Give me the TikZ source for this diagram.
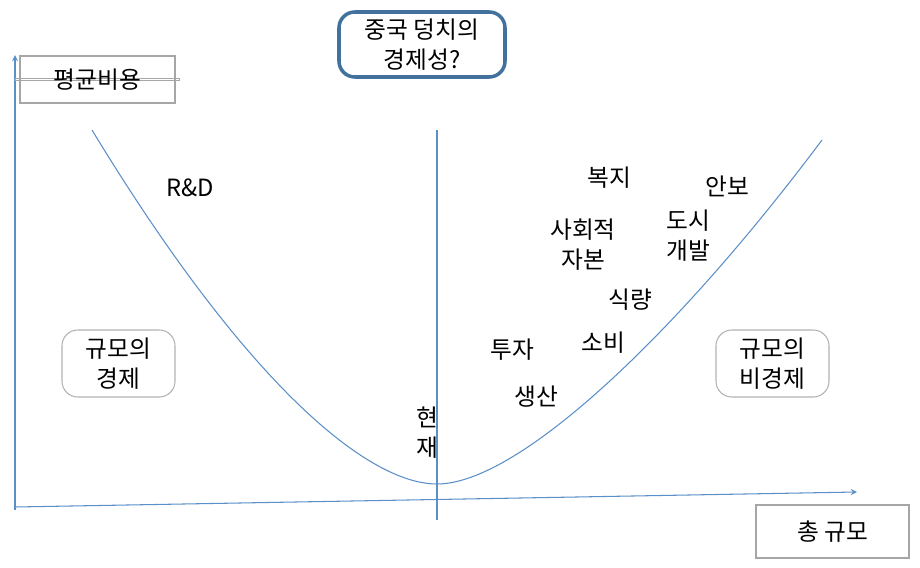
\documentclass[tikz,border=0pt]{standalone}
\usepackage{fontspec}
\setmainfont{Noto Sans CJK KR}
\begin{document}
\begin{tikzpicture}[x=0.02cm,y=-0.02cm,
  ln/.style={draw=axisc, line width=0.6pt},
  sq/.style={draw=gray!70, line width=0.6pt, align=center, inner sep=0pt},
  rb/.style={draw=gray!60, rounded corners=8pt, line width=0.6pt, align=center, inner sep=0pt},
  lbl/.style={align=center, font=\fontsize{13.5}{17}\selectfont, inner sep=0pt}]
\definecolor{axisc}{HTML}{5B8FC7}
\definecolor{tbox}{HTML}{41719C}
\useasboundingbox (0,0) rectangle (920,568);
\coordinate (yb) at (15,510); \coordinate (yt) at (15,55);
\coordinate (xb) at (15,507); \coordinate (xt) at (857,492);
\draw[ln,-stealth] (yb) -- (yt);
\draw[ln,-stealth] (xb) -- (xt);
\coordinate (vt) at (437,130); \coordinate (vb) at (437,520);
\draw[ln] (vt) -- (vb);
\coordinate (c1) at (92,130); \coordinate (cm) at (437,484); \coordinate (c2) at (822,140);
\draw[ln] (c1) .. controls (250,390) and (370,484) .. (cm) .. controls (520,484) and (680,330) .. (c2);
\node[sq,lbl,minimum width=155\pgflinewidth] (pb) at (97.5,79.5) {};
\draw[gray!70, line width=0.6pt] (20,56) rectangle (175,103);
\node[lbl] (pbt) at (97.5,79.5) {평균비용};
\draw[tbox, line width=2pt, rounded corners=9pt] (339,12) rectangle (505,77);
\node[lbl] (tt) at (422,44.5) {중국 덩치의\\경제성?};
\draw[gray!60, line width=0.6pt, rounded corners=9pt] (62,330) rectangle (175,397);
\node[lbl] (ec) at (118.5,363.5) {규모의\\경제};
\draw[gray!60, line width=0.6pt, rounded corners=9pt] (716,330) rectangle (829,397);
\node[lbl] (dec) at (772.5,363.5) {규모의\\비경제};
\draw[gray!70, line width=0.6pt] (756,505) rectangle (909,558);
\node[lbl] (tot) at (832.5,531.5) {총 규모};
\node[lbl] (rd) at (190,188) {R\&D};
\node[lbl] (a) at (609,178) {복지};
\node[lbl] (b) at (727,186) {안보};
\node[lbl] (c) at (688,236) {도시\\개발};
\node[lbl] (d) at (583,245) {사회적\\자본};
\node[lbl] (e) at (630,300) {식량};
\node[lbl] (f) at (603,343) {소비};
\node[lbl] (g) at (512,350) {투자};
\node[lbl] (h) at (536,397) {생산};
\node[lbl] (i) at (427,433) {현\\재};
\end{tikzpicture}
\end{document}
